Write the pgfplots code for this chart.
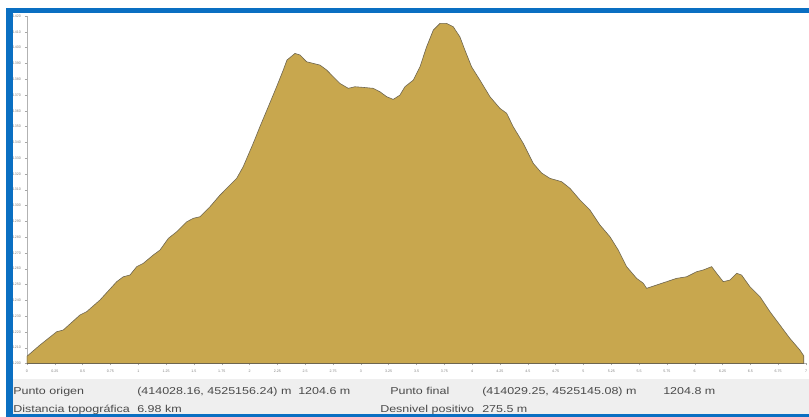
\documentclass[border=0pt]{standalone}
\usepackage{pgfplots}
\pgfplotsset{compat=1.18}
\usepackage{fontspec}
\setmainfont{Liberation Sans}
\definecolor{gold}{HTML}{C8A74E}
\definecolor{goldline}{HTML}{6E6650}
\definecolor{frameblue}{HTML}{0A6FC2}
\definecolor{panel}{HTML}{EFEFEF}
\definecolor{txt}{HTML}{4A4A4A}
\pgfplotstableread{
x y
0 1204.6
0.117 1211.7
0.267 1220.1
0.326 1221.2
0.476 1230.7
0.536 1232.8
0.656 1240.2
0.806 1251.8
0.865 1254.9
0.925 1256.0
0.986 1261.3
1.045 1263.4
1.135 1268.7
1.195 1271.8
1.270 1279.2
1.345 1283.4
1.435 1289.7
1.494 1291.9
1.554 1292.9
1.644 1299.2
1.734 1306.6
1.809 1311.9
1.884 1317.2
1.943 1324.6
2.033 1339.4
2.093 1349.9
2.168 1362.5
2.243 1375.2
2.303 1385.8
2.336 1392.1
2.408 1396.3
2.453 1395.3
2.513 1391.0
2.572 1390.0
2.633 1388.9
2.693 1385.8
2.752 1381.5
2.812 1377.3
2.887 1374.2
2.947 1375.2
3.022 1374.8
3.111 1374.2
3.172 1372.0
3.232 1368.9
3.291 1367.2
3.351 1369.9
3.396 1375.2
3.471 1379.4
3.531 1387.8
3.591 1400.5
3.651 1411.1
3.711 1415.3
3.771 1415.3
3.830 1413.2
3.890 1406.8
3.935 1398.4
3.995 1387.8
4.070 1379.4
4.160 1368.9
4.250 1361.5
4.310 1358.4
4.369 1349.9
4.459 1339.4
4.549 1326.7
4.624 1320.6
4.699 1317.2
4.804 1315.1
4.879 1310.9
4.969 1303.5
5.058 1297.2
5.148 1287.7
5.238 1280.3
5.313 1271.8
5.388 1261.3
5.478 1253.9
5.538 1250.8
5.568 1247.6
5.658 1249.7
5.748 1251.8
5.837 1253.9
5.927 1254.9
6.017 1258.1
6.076 1259.2
6.152 1261.3
6.197 1257.1
6.256 1251.8
6.316 1252.8
6.377 1257.1
6.421 1256.0
6.496 1248.6
6.586 1242.3
6.676 1232.8
6.765 1224.4
6.855 1215.9
6.945 1208.5
6.980 1204.8
}\profile
\begin{document}
\begin{tikzpicture}[x=1pt,y=1pt]
\useasboundingbox (0,0) rectangle (809,417);
\fill[white] (0,0) rectangle (809,417);
\begin{axis}[
  at={(27pt,53.5pt)}, anchor=south west,
  width=779pt, height=347.5pt, scale only axis,
  xmin=0, xmax=7, ymin=1200, ymax=1420,
  axis x line=bottom, axis y line=left,
  axis line style={-, gray!60, line width=0.6pt},
  xtick={0,0.25,...,7}, ytick={1200,1210,...,1420},
  /pgf/number format/1000 sep={},
  /pgf/number format/assume math mode=true,
  ticklabel style={font=\fontsize{3.6}{4}\selectfont, text=gray},
  tick style={gray!70, line width=0.4pt},
  tick align=outside, major tick length=2pt,
  xticklabel style={yshift=-1pt},
  yticklabel style={xshift=-0.5pt},
  clip=true,
]
\addplot[fill=gold, draw=goldline, line width=0.6pt] table[x=x,y=y] {\profile} \closedcycle;
\end{axis}
% info panel
\fill[panel] (13,3) rectangle (809,38);
\begin{scope}[every node/.style={anchor=base west, inner sep=0pt, text=txt, font=\fontsize{10}{12}\selectfont, xscale=1.25, transform shape}]
\node at (13,22) {Punto origen};
\node at (137,22) {(414028.16, 4525156.24) m};
\node at (298,22) {1204.6 m};
\node at (390,22) {Punto final};
\node at (482,22) {(414029.25, 4525145.08) m};
\node at (663,22) {1204.8 m};
\node at (13,4.5) {Distancia topográfica};
\node at (137,4.5) {6.98 km};
\node at (380,4.5) {Desnivel positivo};
\node at (482,4.5) {275.5 m};
\end{scope}
% blue frame
\fill[frameblue] (6,0) rectangle (13,409);
\fill[frameblue] (6,404) rectangle (809,409);
\fill[frameblue] (6,0) rectangle (809,3);
\end{tikzpicture}
\end{document}
